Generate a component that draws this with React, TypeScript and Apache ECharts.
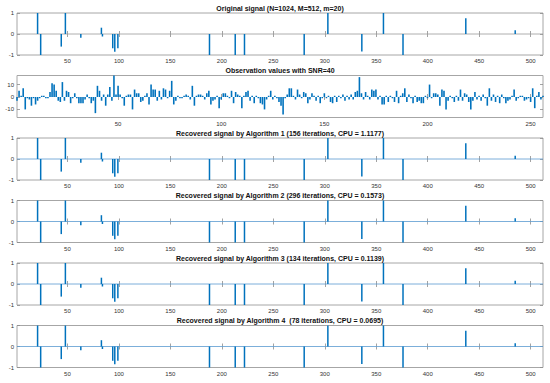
import React, { useEffect, useRef } from "react";
import * as echarts from "echarts";

const spikePositions = [21, 24, 44, 48, 63, 83, 84, 94, 96, 99, 188, 213, 222, 280, 303, 336, 357, 376, 437, 485];
const originalValues = [1, -1, -0.6, 1, -0.18, 0.3, -0.12, -0.68, -0.85, -0.68, -1, -1, -1, -1, 1, -0.83, 1, -1, 0.75, 0.18];
const recovered1Values = [1, -1, -0.6, 1, -0.18, 0.3, -0.12, -0.68, -0.85, -0.68, -1, -1, -1, -1, 1, -0.83, 1, -1, 0.75, 0.15];
const recovered2Values = [1, -1, -0.6, 1, -0.18, 0.3, -0.12, -0.68, -0.85, -0.68, -1, -1, -1, -1, 1, -0.83, 1, -1, 0.75, 0.15];
const recovered3Values = [1, -1, -0.6, 1, -0.18, 0.3, -0.12, -0.68, -0.85, -0.68, -1, -1, -1, -1, 1, -0.83, 1, -1, 0.75, 0.15];
const recovered4Values = [1, -1, -0.6, 1, -0.18, 0.3, -0.12, -0.68, -0.85, -0.68, -1, -1, -1, -1, 1, -0.83, 1, -1, 0.75, 0.15];

const observationValues = [
  -3, 5, 1, 7, -10, -1, -2, -7, -1, -6, -3, -1, 1, 1, -1, -1,
  4, 11, 10, 5, -3, -4, 12, -3, 5, 4, -5, -1, 3, -1, -5, -5,
  -5, -2, 2, -1, -5, -3, -13, 9, 5, -3, 2, -7, 2, 8, -3, 17.3,
  2, 9, 2, -1, -7, 1, 2, 2, -10, 6, 3, 3, -4, -3, 1, 3,
  -6, 10, 6, 6, -3, 5, -2, 7, 6, -1, 5, 13, -6, -3, 1, -1,
  -1, 1, 2, 1, -2, 9, -7, 1, 2, 2, 1, -2, 3, 5, -6, -3,
  -2, 1, -9, -2, 3, 3, 1, -1, 5, -5, 4, 2, 1, -9, 1, 4,
  5, -3, 1, -5, 1, -1, -5, -6, -10, -2, 1, 5, -2, 1, -1, -4,
  -7, -14, -1, 2, 7, 7, 1, -2, 6, 2, -1, 4, 3, -5, -2, 3,
  1, -3, 1, -5, -1, 3, -1, 1, -4, -5, 1, -4, 1, -1, 2, -3,
  1, -2, 2, -2, 4, 5, 16, 3, -2, 4, 1, -2, 6, 5, 6, -2,
  1, -6, -6, 1, -4, 1, -1, -4, 5, -5, 1, 3, 7, -4, 2, -1,
  -5, 1, -4, -3, -5, -5, 1, -1, 10, -1, 3, 3, 2, -7, 6, 5,
  -10, -3, 1, -1, -4, 1, -3, 6, -3, 3, 2, -4, -10, -3, 4, -2,
  1, -3, 2, -1, -7, 7, -3, 2, -4, 1, -5, 2, -1, -5, -3, -2,
  1, 6, -3, -1, 1, 1, -3, -2, -1, -4, 7, -9, 1, 4, -2, 1,
];

const signalXTicks = [50, 100, 150, 200, 250, 300, 350, 400, 450, 500];
const observationXTicks = [50, 100, 150, 200, 250];
const signalYTicks = [-1, 0, 1];
const observationYTicks = [-10, 0, 10];

const panelTitles = [
  "Original signal (N=1024, M=512, m=20)",
  "Observation values with SNR=40",
  "Recovered signal by Algorithm 1 (156 iterations, CPU = 1.1177)",
  "Recovered signal by Algorithm 2 (296 iterations, CPU = 0.1573)",
  "Recovered signal by Algorithm 3 (134 iterations, CPU = 0.1139)",
  "Recovered signal by Algorithm 4  (78 iterations, CPU = 0.0695)",
];

const FONT = "Liberation Sans, Arial, Helvetica, sans-serif";
const BLUE = "#0072BD";

export default function App() {
  const ref = useRef<HTMLDivElement>(null);
  useEffect(() => {
    if (!ref.current) return;
    const chart = echarts.init(ref.current, undefined, { renderer: "svg" });
    const left = 17;
    const right = 7;
    const height = 42;
    const tops = [0, 1, 2, 3, 4, 5].map((k) => 13 + 62.5 * k);

    const signals = [originalValues, null, recovered1Values, recovered2Values, recovered3Values, recovered4Values];

    const grids: any[] = [];
    const xAxes: any[] = [];
    const yAxes: any[] = [];
    const series: any[] = [];
    const graphics: any[] = [];

    tops.forEach((top, k) => {
      const isObs = k === 1;
      grids.push({
        left,
        right,
        top,
        height,
        show: true,
        borderColor: "#a6a6a6",
        borderWidth: 1,
        containLabel: false,
      });
      const xt = isObs ? observationXTicks : signalXTicks;
      const yt = isObs ? observationYTicks : signalYTicks;
      const xmax = isObs ? 256 : 512;
      const ymin = isObs ? -16.5 : -1;
      const ymax = isObs ? 17.3 : 1;
      const tickStyle = { color: "#8c8c8c", width: 0.8 };
      xAxes.push({
        type: "value",
        gridIndex: k,
        min: 1,
        max: xmax,
        position: "bottom",
        axisLine: { show: false },
        splitLine: { show: false },
        axisTick: { show: true, inside: true, length: 3, lineStyle: tickStyle, customValues: xt },
        axisLabel: { show: true, customValues: xt, fontSize: 6, color: "#333", margin: 3, fontFamily: FONT },
      });
      xAxes.push({
        type: "value",
        gridIndex: k,
        min: 1,
        max: xmax,
        position: "top",
        axisLine: { show: false },
        splitLine: { show: false },
        axisTick: { show: true, inside: true, length: 3, lineStyle: tickStyle, customValues: xt },
        axisLabel: { show: false },
      });
      yAxes.push({
        type: "value",
        gridIndex: k,
        min: ymin,
        max: ymax,
        position: "left",
        axisLine: { show: false },
        splitLine: { show: false },
        axisTick: { show: true, inside: true, length: 3, lineStyle: tickStyle, customValues: yt },
        axisLabel: { show: true, customValues: yt, fontSize: 6, color: "#333", margin: 3, fontFamily: FONT },
      });
      yAxes.push({
        type: "value",
        gridIndex: k,
        min: ymin,
        max: ymax,
        position: "right",
        axisLine: { show: false },
        splitLine: { show: false },
        axisTick: { show: true, inside: true, length: 3, lineStyle: tickStyle, customValues: yt },
        axisLabel: { show: false },
      });

      if (isObs) {
        series.push({
          type: "bar",
          xAxisIndex: 2 * k,
          yAxisIndex: 2 * k,
          barWidth: 1.6,
          itemStyle: { color: BLUE },
          data: observationValues.map((v, i) => [i + 1, v]),
        });
      } else {
        const vals = signals[k] as number[];
        series.push({
          type: "line",
          xAxisIndex: 2 * k,
          yAxisIndex: 2 * k,
          symbol: "none",
          lineStyle: { color: k === 0 ? "#9a9a9a" : "#5b9bd0", width: 0.8 },
          data: [
            [1, 0],
            [512, 0],
          ],
          z: 1,
        });
        series.push({
          type: "bar",
          xAxisIndex: 2 * k,
          yAxisIndex: 2 * k,
          barWidth: 1.5,
          itemStyle: { color: BLUE },
          data: spikePositions.map((p, i) => [p, vals[i]]),
          z: 2,
        });
      }

      graphics.push({
        type: "text",
        x: left + (550 - left - right) / 2,
        y: top - 4.8,
        style: {
          text: panelTitles[k],
          textAlign: "center",
          textVerticalAlign: "middle",
          font: `bold 7px ${FONT}`,
          fill: "#111",
        },
      });
    });

    chart.setOption({
      animation: false,
      backgroundColor: "#ffffff",
      grid: grids,
      xAxis: xAxes,
      yAxis: yAxes,
      series,
      graphic: graphics,
    });
    return () => chart.dispose();
  }, []);
  return <div ref={ref} style={{ position: "absolute", left: 0, top: 0, width: 550, height: 383 }} />;
}
